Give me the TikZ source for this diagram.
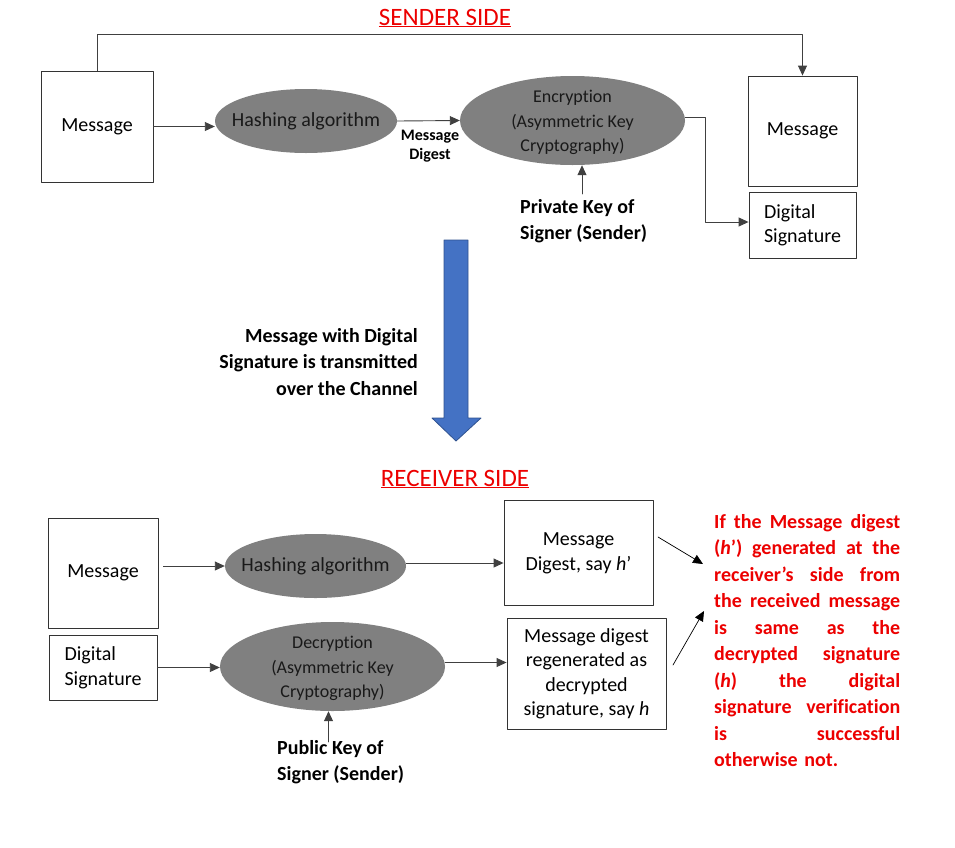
\documentclass[tikz,border=0pt]{standalone}
\usepackage{fontspec}
\setmainfont{Carlito}[Ligatures=NoCommon]
\usetikzlibrary{shapes.geometric,arrows.meta}
\definecolor{sigred}{RGB}{236,0,0}
\definecolor{chanblue}{RGB}{68,114,196}
\definecolor{chanedge}{RGB}{47,82,143}
\newcommand{\celltext}[2][c]{\makebox[0pt]{\smash{\raisebox{-6pt}{\begin{tabular}{@{}#1@{}}#2\end{tabular}}}}}

\begin{document}
\begin{tikzpicture}[x=1pt,y=-1pt,line cap=round,line join=round,
  box/.style={draw=black!80,line width=0.9pt,inner sep=0pt,font=\fontsize{20}{24.5}\selectfont},
  oval/.style={ellipse,fill=black!50,inner sep=0pt,text=black!90,font=\fontsize{18}{24.5}\selectfont},
  conn/.style={draw=black!75,line width=0.9pt},
  arr/.style={conn,-{Triangle[length=10pt,width=9pt]}},
  boldtext/.style={font=\fontsize{20}{26.5}\selectfont\bfseries,inner sep=0pt},
  sidetitle/.style={text=sigred,font=\fontsize{25}{30}\selectfont,anchor=base}]
  \useasboundingbox (0,0) rectangle (955,847);
  \node[sidetitle] (sendtitle) at (445,25) {\underline{SENDER SIDE}};
  \node[box,minimum width=112,minimum height=111] (smsg) at (97,126.5) {Message};
  \node[oval,minimum width=182,minimum height=64,font=\fontsize{20}{24.5}\selectfont] (shash) at (306,121)
    {\celltext{Hashing algorithm}};
  \node[oval,minimum width=225,minimum height=89] (enc) at (572.5,120.5)
    {\celltext{Encryption\\(Asymmetric Key\\Cryptography)}};
  \node[box,minimum width=109,minimum height=110] (smsg2) at (802.5,131) {Message};
  \node[box,minimum width=107,minimum height=66] (sds) at (802.5,225) {\celltext[l]{Digital\\Signature}};
  \node[boldtext,font=\fontsize{16}{19}\selectfont\bfseries,align=center] (mdlabel) at (430,146) {Message\\Digest};
  \node[boldtext,align=left,anchor=west] (privkey) at (520,221) {Private Key of\\Signer (Sender)};
  \draw[arr] (smsg.east) -- (smsg.east -| shash.west);
  \draw[arr] (shash.east) -- (enc.west);
  \draw[arr] (smsg.north) -- ++(0,-36) -| (smsg2.north);
  \draw[arr] ([yshift=3pt]enc.east) -- ++(20,0) |- ([yshift=3pt]sds.west);
  \draw[arr] ([xshift=9.5pt,yshift=5pt]enc.south |- privkey.north) -- ([xshift=9.5pt]enc.south);
  \filldraw[fill=chanblue,draw=chanedge,line width=0.8pt]
    (444,240) -- (468,240) -- (468,418) -- (481,418) -- (456,441) -- (432,418) -- (444,418) -- cycle;
  \node[boldtext,align=right,anchor=east] (channel) at (418,362)
    {Message with Digital\\Signature is transmitted\\over the Channel};
  \node[sidetitle] (recvtitle) at (455,486) {\underline{RECEIVER SIDE}};
  \node[box,minimum width=110,minimum height=110] (rmsg) at (103,573) {Message};
  \node[box,minimum width=108,minimum height=65] (rds) at (103,667.5) {\celltext[l]{Digital\\Signature}};
  \node[oval,minimum width=181,minimum height=64,font=\fontsize{20}{24.5}\selectfont] (rhash) at (315.5,566)
    {\celltext{Hashing algorithm}};
  \node[oval,minimum width=225,minimum height=89] (dec) at (332.5,666.5)
    {\celltext{Decryption\\(Asymmetric Key\\Cryptography)}};
  \node[box,minimum width=149,minimum height=105] (hnew) at (578.5,552.5)
    {\celltext{Message\\Digest, say \textit{h}’}};
  \node[box,minimum width=159,minimum height=111] (hdec) at (586.5,673.5)
    {\celltext{Message digest\\regenerated as\\decrypted\\signature, say \textit{h}}};
  \node[boldtext,align=left,anchor=west] (pubkey) at (277,762) {Public Key of\\Signer (Sender)};
  \draw[arr,shorten <=5pt] (rmsg.east |- rhash) -- (rhash.west);
  \draw[arr] (rds.east) -- (rds.east -| dec.west);
  \draw[arr] ([yshift=3pt]rhash.east) -- ([yshift=3pt]rhash.east -| hnew.west);
  \draw[arr] ([yshift=4pt]dec.east) -- ([yshift=4pt]dec.east -| hdec.west);
  \draw[arr] ([xshift=-4pt,yshift=-2pt]dec.south |- pubkey.north) -- ([xshift=-4pt]dec.south);
  \node[boldtext,text=sigred,text width=186,anchor=north west] (verdict) at (714,514)
    {If\hfill the\hfill Message\hfill digest\\
     (\textit{h}’)\hfill generated\hfill at\hfill the\\
     receiver’s\hfill side\hfill from\\
     the\hfill received\hfill message\\
     is\hfill same\hfill as\hfill the\\
     decrypted\hfill signature\\
     (\textit{h})\hfill the\hfill digital\\
     signature\hfill verification\\
     is\hfill successful\\
     otherwise not.};
  \coordinate (fromnew) at (658,537);
  \coordinate (tonew) at (703,564);
  \coordinate (fromdec) at (673,665);
  \coordinate (todec) at (704,611);
  \draw[arr,draw=black,line width=0.7pt] (fromnew) -- (tonew);
  \draw[arr,draw=black,line width=0.7pt] (fromdec) -- (todec);
\end{tikzpicture}
\end{document}
